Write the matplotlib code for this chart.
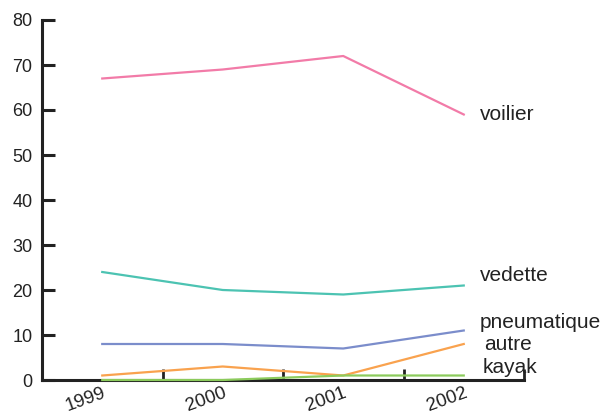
import matplotlib
matplotlib.use("Agg")
import matplotlib.pyplot as plt

years = ["1999", "2000", "2001", "2002"]
series_names = ["voilier", "vedette", "pneumatique", "autre", "kayak"]
voilier = [67, 69, 72, 59]
vedette = [24, 20, 19, 21]
pneumatique = [8, 8, 7, 11]
autre = [1, 3, 1, 8]
kayak = [0, 0, 1, 1]
colors = ["#f27ba8", "#4cc3b2", "#7b8dcb", "#f9a24e", "#8ccb5c"]
y_ticks = [0, 10, 20, 30, 40, 50, 60, 70, 80]

plt.rcParams['font.family'] = ['Liberation Sans', 'DejaVu Sans']

fig = plt.figure(figsize=(6.03, 4.15), dpi=100)
ax = fig.add_axes([42/603, 35/415, (524-42)/603, (380-20)/415])

data = [voilier, vedette, pneumatique, autre, kayak]
x = list(range(len(years)))
# label offsets in points (dx, dy)
label_offsets = [(12, 0), (11.5, 7), (11.5, 6), (15, 0), (13.5, 6)]
for name, vals, c, off in zip(series_names, data, colors, label_offsets):
    ax.plot(x, vals, color=c, lw=1.6, clip_on=False, zorder=3)
    ax.annotate(name, xy=(x[-1], vals[-1]), xytext=off,
                textcoords='offset points', fontsize=15, va='center', ha='left',
                color='#222222', annotation_clip=False)

ax.set_xlim(-0.5, 3.5)
ax.set_ylim(0, 80)
ax.set_yticks(y_ticks)
ax.set_yticklabels([str(v) for v in y_ticks], fontsize=13, color='#222222')
ax.tick_params(axis='y', direction='in', length=9, width=2.2, pad=7, color='#222222')

ax.set_xticks([0.5, 1.5, 2.5, 3.5])
ax.set_xticklabels([])
ax.tick_params(axis='x', which='major', direction='in', length=8, width=2, color='#222222')
ax.set_xticks(x, minor=True)
ax.set_xticklabels(years, minor=True, fontsize=13.5, rotation=20, ha='right',
                   rotation_mode='anchor', color='#222222')
ax.tick_params(axis='x', which='minor', length=0, pad=3)

for s in ['top', 'right']:
    ax.spines[s].set_visible(False)
for s in ['left', 'bottom']:
    ax.spines[s].set_linewidth(2.2)
    ax.spines[s].set_color('#222222')

fig.savefig("out.png", dpi=100)
